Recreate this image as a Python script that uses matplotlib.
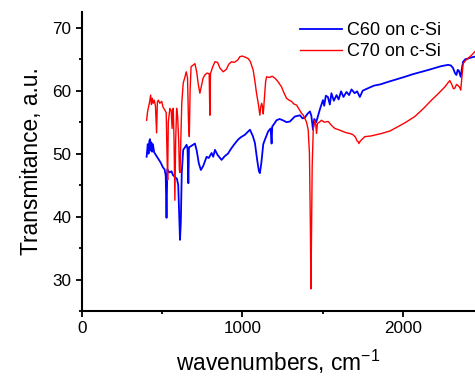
import numpy as np
import matplotlib
matplotlib.use("Agg")
import matplotlib.pyplot as plt
from matplotlib.ticker import MultipleLocator

plt.rcParams['font.family'] = ['Liberation Sans', 'DejaVu Sans']
plt.rcParams['mathtext.fontset'] = 'custom'
plt.rcParams['mathtext.rm'] = 'Liberation Sans'
plt.rcParams['mathtext.it'] = 'Liberation Sans'

# C60 on c-Si (blue)
c60_wn = [403, 410, 415, 420, 424, 428, 432, 437, 442, 450, 460, 475, 490, 505,
          515, 522, 527, 532, 545, 558, 567, 580, 592, 600, 606, 611, 616, 622,
          631, 642, 652, 658, 663, 667, 680, 704, 715, 728, 741, 755, 777, 790,
          808, 818, 829, 845, 870, 890, 910, 930, 950, 972, 990, 1016, 1035, 1047,
          1065, 1078, 1092, 1103, 1109, 1118, 1130, 1140, 1160, 1176, 1182, 1186,
          1200, 1213, 1232, 1252, 1275, 1296, 1315, 1327, 1345, 1358, 1375, 1389,
          1405, 1421, 1430, 1440, 1448, 1460, 1470, 1485, 1502, 1510, 1520, 1533,
          1545, 1555, 1570, 1587, 1600, 1615, 1630, 1649, 1665, 1680, 1700, 1715,
          1732, 1750, 1784, 1820, 1860, 1908, 1960, 2012, 2060, 2117, 2160, 2199,
          2240, 2282, 2300, 2313, 2325, 2334, 2342, 2349, 2361, 2370, 2376, 2390,
          2407, 2430, 2449]
c60_t = [49.5, 51.5, 50.0, 52.0, 52.3, 50.5, 51.8, 50.3, 51.5, 50.2, 49.8, 49.2, 48.6, 47.8,
         47.5, 46.5, 39.8, 47.5, 47.0, 47.2, 46.6, 46.3, 46.0, 45.0, 40.0, 36.3, 39.0, 47.0,
         50.6, 51.0, 51.4, 50.8, 45.3, 51.0, 51.2, 51.6, 50.5, 48.5, 47.4, 48.0, 49.5, 49.3,
         50.1, 49.5, 50.6, 49.8, 49.0, 49.6, 50.0, 50.8, 51.5, 52.2, 52.6, 53.0, 53.5, 53.8,
         52.8, 51.7, 49.0, 47.2, 46.9, 48.5, 51.5, 52.2, 53.5, 54.0, 51.6, 54.3,
         54.8, 55.3, 55.5, 55.3, 55.0, 55.1, 55.6, 55.9, 56.0, 56.1, 55.6, 55.7,
         56.3, 56.7, 56.0, 53.8, 55.5, 55.0, 55.9, 57.2, 58.5, 57.6, 59.2, 59.0,
         57.8, 59.6, 58.4, 59.3, 58.6, 59.9, 59.0, 59.8, 59.3, 60.2, 59.6, 59.9,
         59.0, 60.0, 60.4, 60.8, 61.0, 61.4, 61.8, 62.2, 62.6, 63.0, 63.3, 63.6,
         63.9, 64.1, 64.0, 63.6, 62.8, 62.5, 63.3, 63.2, 62.2, 63.8, 64.6, 65.0,
         65.1, 65.3, 65.4]

# C70 on c-Si (red)
c70_wn = [403, 408, 413, 420, 428, 433, 438, 444, 450, 458, 465, 470, 476, 485, 497,
          505, 517, 525, 530, 534, 538, 548, 556, 562, 566, 569, 574, 579, 584, 590,
          596, 603, 607, 611, 616, 622, 631, 642, 650, 658, 664, 669, 674, 680, 690,
          704, 715, 725, 735, 745, 755, 766, 780, 793, 797, 801, 815, 829, 845, 860,
          880, 900, 915, 932, 950, 972, 984, 1000, 1020, 1036, 1050, 1060, 1067, 1078,
          1088, 1100, 1109, 1115, 1120, 1125, 1130, 1138, 1145, 1151, 1170, 1185, 1202,
          1220, 1244, 1260, 1275, 1290, 1306, 1320, 1338, 1355, 1369, 1380, 1389, 1400,
          1410, 1418, 1424, 1427, 1430, 1435, 1442, 1452, 1458, 1462, 1468, 1480, 1493,
          1510, 1535, 1555, 1576, 1600, 1628, 1650, 1670, 1690, 1705, 1715, 1722, 1726,
          1735, 1763, 1800, 1867, 1920, 1971, 2020, 2075, 2130, 2179, 2220, 2262, 2280,
          2293, 2305, 2316, 2324, 2335, 2345, 2355, 2361, 2368, 2376, 2395, 2418, 2435,
          2449]
c70_t = [55.3, 56.5, 57.2, 58.0, 59.3, 57.8, 58.8, 58.0, 58.5, 57.6, 53.3, 58.2, 58.5, 58.0, 58.3,
         57.4, 56.9, 56.5, 50.0, 45.8, 55.0, 57.2, 56.8, 54.0, 57.0, 57.2, 52.0, 42.6, 52.0, 57.2,
         56.0, 52.0, 47.4, 47.0, 52.0, 58.0, 61.2, 62.2, 63.0, 62.0, 55.0, 52.7, 60.0, 63.8, 64.0,
         64.3, 63.0, 61.0, 59.6, 60.8, 62.0, 62.5, 62.8, 62.7, 56.1, 62.7, 63.8, 64.6, 64.5, 63.6,
         63.0, 63.4, 64.2, 64.6, 64.5, 64.9, 65.4, 65.5, 65.3, 65.1, 64.6, 63.8, 63.3, 61.5,
         59.6, 57.8, 56.1, 57.5, 58.0, 57.5, 56.3, 59.0, 61.5, 62.2, 62.1, 62.3, 62.0,
         61.5, 60.6, 59.6, 58.8, 58.5, 58.3, 57.9, 57.7, 57.0, 56.4, 56.1, 55.6, 55.0,
         53.8, 50.0, 38.0, 28.5, 35.0, 48.0, 54.0, 55.3, 54.5, 53.2, 54.8, 55.0, 55.3,
         55.0, 55.1, 54.5, 54.0, 53.8, 53.5, 53.3, 53.2, 53.0, 52.6, 52.0, 51.9, 51.6,
         52.0, 52.7, 52.8, 53.2, 53.6, 54.3, 55.0, 55.9, 57.2, 58.5, 59.5, 60.6, 61.2,
         61.6, 61.0, 60.3, 60.4, 61.0, 60.8, 60.5, 60.1, 62.0, 64.3, 64.9, 65.4, 65.8,
         66.2]

fig = plt.figure(figsize=(4.75, 3.76), dpi=100)
ax = fig.add_axes([0.1726, 0.1729, 0.8274, 0.7952])

ax.plot(c60_wn, c60_t, color='#0000FF', lw=1.3, label='C60 on c-Si')
ax.plot(c70_wn, c70_t, color='#FF0000', lw=1.0, label='C70 on c-Si')

ax.set_xlim(0, 2450)
ax.set_ylim(25, 72.5)
ax.xaxis.set_major_locator(MultipleLocator(1000))
ax.xaxis.set_minor_locator(MultipleLocator(500))
ax.yaxis.set_major_locator(MultipleLocator(10))
ax.yaxis.set_minor_locator(MultipleLocator(5))
ax.set_yticks([30, 40, 50, 60, 70])

for s in ['top', 'right']:
    ax.spines[s].set_visible(False)
for s in ['left', 'bottom']:
    ax.spines[s].set_linewidth(1.5)
ax.tick_params(which='major', direction='out', length=4.5, width=1.3, labelsize=12.3, pad=3)
ax.tick_params(which='minor', direction='out', length=2.5, width=1.3)

ax.set_xlabel('wavenumbers, cm$^{-1}$', fontsize=16.4, labelpad=8)
ax.set_ylabel('Transmitance, a.u.', fontsize=16.4, labelpad=7)

ax.legend(loc='upper right', bbox_to_anchor=(0.955, 1.02), frameon=False, fontsize=13,
          handlelength=2.3, handletextpad=0.3, labelspacing=0.2)

fig.savefig('out.png', dpi=100)
